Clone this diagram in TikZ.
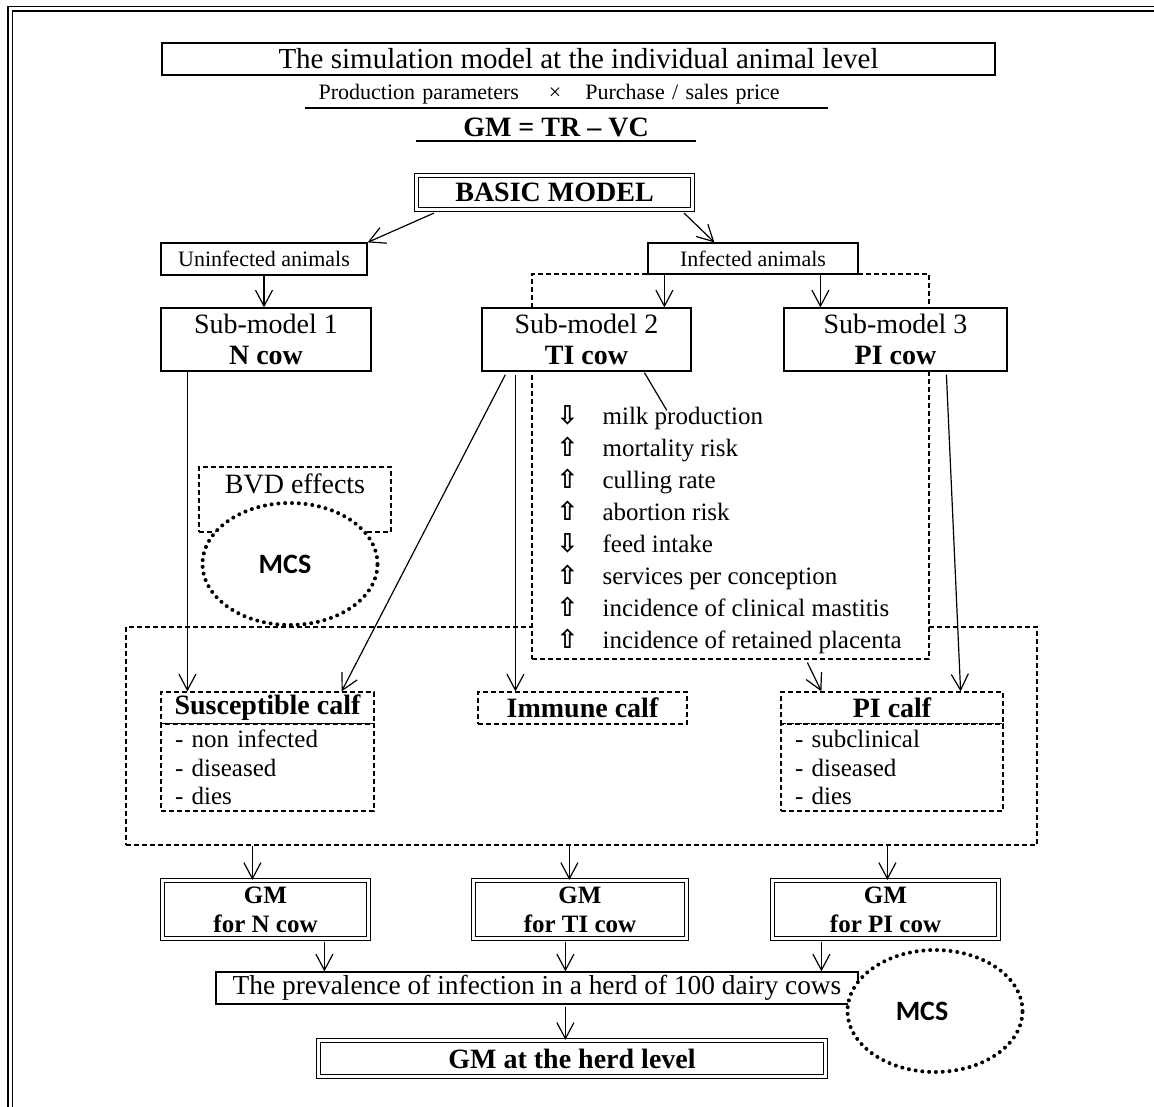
\documentclass[tikz,border=0pt]{standalone}
\usepackage{fontspec}
\setmainfont{Liberation Serif}
\newfontfamily\mcsfont{Carlito}
\newfontfamily\arrowfont{DejaVu Sans}
\usetikzlibrary{arrows.meta, calc, shapes.geometric}

% hollow arrow in front of each BVD effect
\newcommand\effarrow[1]{\makebox[23pt][l]{\arrowfont\bfseries\fontsize{13}{13}\selectfont #1}}

\begin{document}
\begin{tikzpicture}[
    x=0.5pt, y=-0.5pt,
    >={Straight Barb[length=8pt,width=8.5pt]},
    line width=0.6pt,
    boxsize/.style 2 args={minimum width=#1*0.5pt, minimum height=#2*0.5pt},
    box/.style={draw, fill=white, inner sep=0pt, align=center},
    dbox/.style={box, double, double distance=1.3pt},
    dashbox/.style={box, dash pattern=on 2.5pt off 1.5pt},
    mcs/.style={ellipse, draw, fill=white, line width=2pt,
        dash pattern=on 0pt off 3.4pt, line cap=round,
        minimum width=87.5pt, minimum height=61pt,
        font=\mcsfont\bfseries\fontsize{14}{16}\selectfont},
    big/.style={font=\fontsize{14}{15.5}\selectfont},
    bold/.style={font=\bfseries\fontsize{14}{16}\selectfont},
    small/.style={font=\fontsize{11}{13}\selectfont},
    gmtext/.style={font=\bfseries\fontsize{12.5}{14.5}\selectfont},
    list/.style={font=\fontsize{12.5}{14.25}\selectfont, align=left},
    effect/.style={inner sep=0pt, font=\fontsize{12.5}{15}\selectfont},
]

\useasboundingbox (0,0) rectangle (1154,1106);

% outer frame (runs off the page on the right and at the bottom)
\draw[double, double distance=1.5pt, line width=0.7pt] (10,9) rectangle (1180,1130);

%------------------------------------------------------------
% Header
%------------------------------------------------------------
\node[box, line width=0.8pt, boxsize={833}{32}, font=\fontsize{14.5}{16}\selectfont]
      (title) at (578.5,59) {The simulation model at the individual animal level};

\node[anchor=south west, inner xsep=0pt, inner ysep=1.5pt, text width=261pt,
      align=left, small] (prod) at (305,108)
      {\hspace*{6.5pt}Production parameters\hspace{15pt}×\hspace{12pt}Purchase / sales price};
\draw (prod.south west) -- (prod.south east);

\node[anchor=south, inner xsep=0pt, inner ysep=1.5pt, minimum width=139pt, bold]
      (gmeq) at (556,141) {GM = TR – VC};
\draw (gmeq.south west) -- (gmeq.south east);

%------------------------------------------------------------
% Dashed groups (drawn first, boxes cover them)
%------------------------------------------------------------
\node[dashbox, fill=none, boxsize={911}{218}] (bigbox) at (581.5,736) {};
\node[dashbox, boxsize={397}{385}] (effbox) at (730.5,466.5) {};
\node[dashbox, big, boxsize={192}{65}, text height=13pt, text depth=19.5pt]
      (bvd) at (295,499.5) {BVD effects};

%------------------------------------------------------------
% Basic model and sub-models
%------------------------------------------------------------
\node[dbox, bold, boxsize={276}{34}] (basic) at (554.5,192.5) {BASIC MODEL};

\node[box, small, boxsize={206}{32}] (unin) at (264,259) {Uninfected animals};
\node[box, small, boxsize={210}{31}] (infa) at (753,258.5) {Infected animals};

\node[box, big, boxsize={210}{63}] (sm1) at (266,339.5) {Sub-model 1\\\textbf{N cow}};
\node[box, big, boxsize={209}{63}] (sm2) at (586.5,339.5) {Sub-model 2\\\textbf{TI cow}};
\node[box, big, boxsize={223}{63}] (sm3) at (895.5,339.5) {Sub-model 3\\\textbf{PI cow}};

% --- effects of infection ---
\foreach \i/\ar/\txt in {0/⇩/milk production, 1/⇧/mortality risk, 2/⇧/culling rate,
    3/⇧/abortion risk, 4/⇩/feed intake, 5/⇧/services per conception,
    6/⇧/incidence of clinical mastitis, 7/⇧/incidence of retained placenta}{
    \node[effect, anchor=base west] (eff\i) at (556,{424+32.1*\i}) {\effarrow{\ar}\txt};
}

\node[mcs] (mcs1) at (290,564) {MCS\hspace*{5pt}};

%------------------------------------------------------------
% Calves
%------------------------------------------------------------
\node[dashbox, bold, boxsize={213}{32}] (sus) at (267.5,708) {Susceptible calf};
\node[dashbox, list, text width=92.5pt, boxsize={213}{87}] (susl) at (267.5,767.5)
      {- non infected\\- diseased\\- dies};
\node[dashbox, bold, boxsize={209}{32}] (imm) at (582.5,708) {Immune calf};
\node[dashbox, bold, boxsize={222}{32}] (pic) at (892,708) {PI calf};
\node[dashbox, list, text width=97pt, boxsize={222}{87}] (picl) at (892,767.5)
      {- subclinical\\- diseased\\- dies};

%------------------------------------------------------------
% Gross margins and herd level
%------------------------------------------------------------
\node[dbox, gmtext, boxsize={206}{58}] (gmn) at (265.5,909.5) {GM\\for N cow};
\node[dbox, gmtext, boxsize={213}{58}] (gmt) at (580,909.5) {GM\\for TI cow};
\node[dbox, gmtext, boxsize={226}{58}] (gmp) at (885.5,909.5) {GM\\for PI cow};

\node[box, boxsize={642}{32}, font=\fontsize{13.7}{15.5}\selectfont] (prev) at (537,988)
      {The prevalence of infection in a herd of 100 dairy cows};
\node[dbox, bold, boxsize={507}{36}] (herd) at (572,1058.5) {GM at the herd level};

\node[mcs] (mcs2) at (935,1011) {MCS\hspace*{13pt}};

%------------------------------------------------------------
% Connectors
%------------------------------------------------------------
\draw[->] ($(basic.south west)+(18,3)$) -- (unin.north east);
\draw[->] ($(basic.south east)+(-9,3)$) -- ($(infa.north west)+(67,0)$);
\draw[->] (unin.south) -- (unin.south |- sm1.north);
\draw[->] ($(infa.south west)+(17,0)$) coordinate (i2) -- (i2 |- sm2.north);
\draw[->] ($(infa.south west)+(173,0)$) coordinate (i3) -- (i3 |- sm3.north);

\draw[->] ($(sm1.south west)+(27,0)$) coordinate (n1) -- (n1 |- sus.north);
\draw[->] ($(sm2.south west)+(24,3)$) -- ($(sus.north east)+(-33,0)$);
\draw[->] ($(sm2.south west)+(34,3)$) coordinate (t1) -- (t1 |- imm.north);
\draw ($(sm2.south west)+(163,1)$) -- ($(eff0.north)+(7,6)$);
\draw[->] ($(effbox.south west)+(276,3)$) -- ($(pic.north west)+(41,0)$);
\draw[->] ($(sm3.south west)+(163,3)$) -- ($(pic.north east)+(-43,0)$);

\foreach \x/\g in {127/gmn, 444/gmt, 762/gmp}{
    \draw[->] ($(bigbox.south west)+(\x,0)$) coordinate (b) -- (b |- \g.north);
}
\draw[->] ($(gmn.south west)+(162.5,2.5)$) coordinate (g1) -- (g1 |- prev.north);
\draw[->] ($(gmt.south west)+(92.5,2.5)$) coordinate (g2) -- (g2 |- prev.north);
\draw[->] ($(gmp.south west)+(49.5,2.5)$) coordinate (g3) -- (g3 |- prev.north);
\draw[->] ($(prev.south west)+(350,2)$) coordinate (p1) -- (p1 |- herd.north);

\end{tikzpicture}
\end{document}
